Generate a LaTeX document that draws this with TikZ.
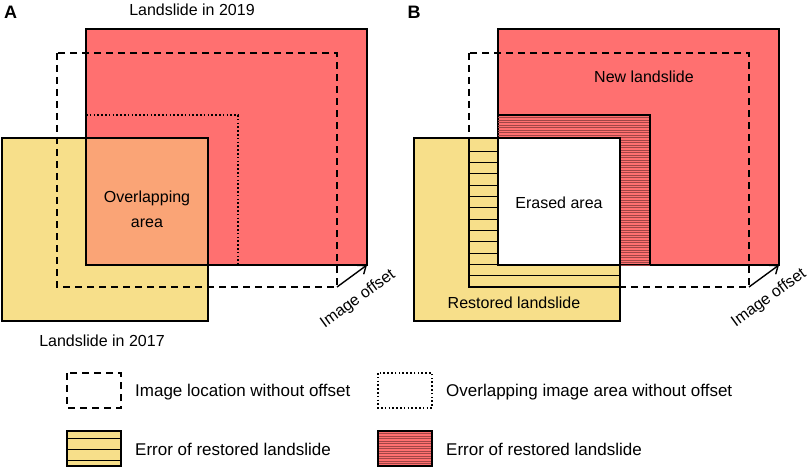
\documentclass[tikz,border=0pt]{standalone}
\usepackage{fontspec}
\setmainfont{Liberation Sans}
\usepackage{xcolor}
\usepackage{tikz}
\usetikzlibrary{arrows.meta,positioning,calc}
\definecolor{slidered}{RGB}{255,112,112}
\definecolor{slideyellow}{RGB}{247,223,138}
\definecolor{overlaporange}{RGB}{250,164,118}
\definecolor{hatchred}{RGB}{160,70,70}
\tikzset{
    outline/.style={draw=black, line width=1.5pt},
    offsetbox/.style={draw=black, line width=1.3pt, dash pattern=on 7pt off 5pt},
    overlapline/.style={draw=black, line width=1.3pt, dash pattern=on 1.6pt off 2.2pt},
    hatchline/.style={draw=black, line width=0.9pt},
    densehatch/.style={draw=hatchred, line width=0.6pt},
    offsetarrow/.style={-{Straight Barb[length=7pt,width=11pt]}, line width=1.4pt},
    txt/.style={font=\fontsize{16}{19}\selectfont, inner sep=0pt},
    panel/.style={font=\bfseries\fontsize{18}{20}\selectfont, inner sep=0pt},
    legtxt/.style={font=\fontsize{17}{20}\selectfont, inner sep=0pt, anchor=west}
}

\begin{document}
\begin{tikzpicture}[x=1pt, y=-1pt]
    \useasboundingbox (0,0) rectangle (809,468);

    % panel A
    \fill[slideyellow] (2,138) rectangle (208,321);
    \fill[slidered] (86,29) rectangle (367,265);
    \fill[overlaporange] (86,138) rectangle (208,265);
    \draw[outline] (2,138) rectangle (208,321);
    \draw[outline] (86,29) rectangle (367,265);
    \draw[offsetbox] (57,53) rectangle (337,287);
    \draw[overlapline] (86,115) -- (238,115) -- (238,265);

    \coordinate (dashA) at (337,287);
    \coordinate (slideA) at (367,265);
    \draw[offsetarrow] (dashA) -- (slideA);

    \node[panel] (labA) at (10.5,12.5) {A};
    \node[txt] (top19) at (192,9.5) {Landslide in 2019};
    \node[txt] (bot17) at (102,341) {Landslide in 2017};
    \node[txt, align=center, font=\fontsize{16}{25}\selectfont] (overlap) at (147,209) {Overlapping\\area};
    \node[txt, rotate=36] (offA) at (358,299) {Image offset};

    % panel B
    \fill[slideyellow] (414,138) rectangle (620,321);
    \fill[slidered] (498,29) rectangle (779,265);
    \draw[outline] (414,138) rectangle (620,321);
    \draw[outline] (498,29) rectangle (779,265);
    \begin{scope}
        \clip (498,115) rectangle (650,265);
        \foreach \y in {117.5,120,...,265} {
            \draw[densehatch] (498,\y) -- (650,\y);
        }
    \end{scope}
    \draw[outline] (498,115) -- (650,115) -- (650,265);
    \draw[outline, fill=white] (498,138) rectangle (620,265);
    \draw[offsetbox] (469,53) rectangle (749,287);
    \begin{scope}
        \clip (469,138) -- (498,138) -- (498,265) -- (620,265) -- (620,287) -- (469,287) -- cycle;
        \fill[slideyellow] (469,138) rectangle (620,287);
        \foreach \k in {1,...,12} {
            \draw[hatchline] (469,287-11.33*\k) -- (620,287-11.33*\k);
        }
    \end{scope}
    \draw[outline] (469,138) -- (498,138) -- (498,265) -- (620,265) -- (620,287) -- (469,287) -- cycle;

    \coordinate (dashB) at (749,287);
    \coordinate (slideB) at (779,265);
    \draw[offsetarrow] (dashB) -- (slideB);

    \node[panel] (labB) at (414,12.5) {B};
    \node[txt] (newslide) at (644,77) {New landslide};
    \node[txt] (erased) at (559,203) {Erased area};
    \node[txt] (restored) at (514,303) {Restored landslide};
    \node[txt, rotate=36] (offB) at (769,298) {Image offset};

    % legend
    \draw[offsetbox] (67,373) rectangle (121,408);
    \node[legtxt] (legdash) at (135,392) {Image location without offset};
    \draw[overlapline] (378,373) rectangle (432,408);
    \node[legtxt] (legdot) at (446,392) {Overlapping image area without offset};

    \fill[slideyellow] (67,431) rectangle (121,466);
    \foreach \y in {438,449,460} {
        \draw[hatchline] (67,\y) -- (121,\y);
    }
    \draw[outline] (67,431) rectangle (121,466);
    \node[legtxt] (legyellow) at (135,449) {Error of restored landslide};

    \fill[slidered] (378,431) rectangle (432,466);
    \foreach \y in {433.5,436,...,464.5} {
        \draw[densehatch] (378,\y) -- (432,\y);
    }
    \draw[outline] (378,431) rectangle (432,466);
    \node[legtxt] (legred) at (446,449) {Error of restored landslide};
\end{tikzpicture}
\end{document}
